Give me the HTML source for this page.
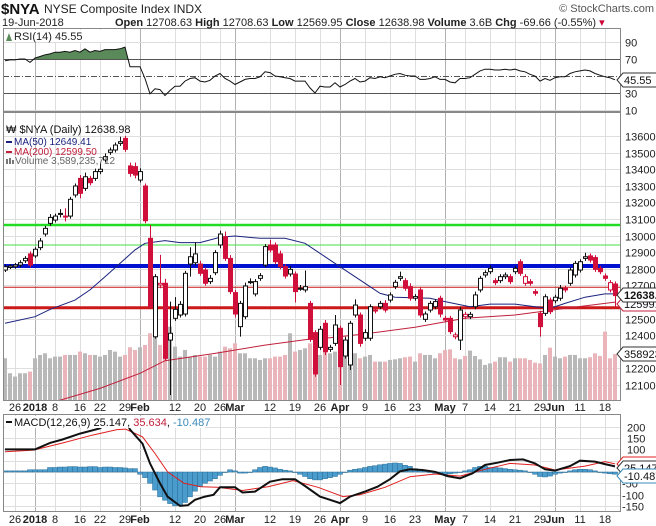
<!DOCTYPE html>
<html><head><meta charset="utf-8">
<style>
html,body{margin:0;padding:0;background:#fff;}
svg{display:block;font-family:"Liberation Sans",sans-serif;}
</style></head>
<body>
<svg id="c" width="656" height="526" viewBox="0 0 656 526" xmlns="http://www.w3.org/2000/svg">
<defs>
<clipPath id="clipMain"><rect x="3" y="112" width="618" height="288"/></clipPath>
<clipPath id="clipRsi"><rect x="3" y="28" width="618" height="83"/></clipPath>
<clipPath id="clipRsiHi"><rect x="3" y="28" width="618" height="31"/></clipPath>
<clipPath id="clipMacd"><rect x="3" y="414" width="618" height="97"/></clipPath>
</defs>
<rect x="0" y="0" width="656" height="526" fill="#fff"/>
<g id="grid"></g>
<g id="rsiG" clip-path="url(#clipRsi)"></g>
<g id="volG" clip-path="url(#clipMain)"></g>
<g id="linesG" clip-path="url(#clipMain)"></g>
<g id="candleG" clip-path="url(#clipMain)"></g>
<g id="macdG" clip-path="url(#clipMacd)"></g>
<g id="frames" fill="none" stroke="#888" stroke-width="1">
<rect x="3.5" y="28.5" width="617" height="83"/>
<rect x="3.5" y="112.5" width="617" height="288"/>
<rect x="3.5" y="414.5" width="617" height="97"/>
</g>
<g id="axes" font-size="11" fill="#222"></g>
<!-- header -->
<text x="1" y="14" font-size="15" font-weight="bold" fill="#111">$NYA</text>
<text x="44" y="13" font-size="12" fill="#222">NYSE Composite Index  INDX</text>
<text x="654" y="12" font-size="11" fill="#555" text-anchor="end">© StockCharts.com</text>
<text x="2" y="26" font-size="11" fill="#222">19-Jun-2018</text>
<text x="115" y="26" font-size="11" fill="#222"><tspan font-weight="bold">Open</tspan> 12708.63 <tspan font-weight="bold">High</tspan> 12708.63 <tspan font-weight="bold">Low</tspan> 12569.95 <tspan font-weight="bold">Close</tspan> 12638.98 <tspan font-weight="bold">Volume</tspan> 3.6B <tspan font-weight="bold">Chg</tspan> -69.66 (-0.55%) <tspan fill="#c03">▾</tspan></text>
<!-- RSI legend -->
<rect x="5" y="30" width="96" height="12" fill="#fff"/>
<path d="M6,41 L9,33 L12,41 Z" fill="#5a8a5a"/>
<text x="14" y="40" font-size="11" fill="#222">RSI(14) 45.55</text>
<!-- main legend -->
<g id="legendG">
<text x="6" y="133" font-size="11" fill="#111">₩ $NYA (Daily) 12638.98</text>
<line x1="6" y1="142" x2="12" y2="142" stroke="#1a237e" stroke-width="2"/>
<text x="14" y="145" font-size="10" fill="#1a237e">MA(50) 12649.41</text>
<line x1="6" y1="152" x2="12" y2="152" stroke="#c0203c" stroke-width="2"/>
<text x="14" y="155" font-size="10" fill="#c0203c">MA(200) 12599.50</text>
<rect x="6" y="159" width="2" height="5" fill="#777"/><rect x="9" y="158" width="2" height="6" fill="#777"/><rect x="12" y="160" width="2" height="4" fill="#777"/>
<text x="15" y="164" font-size="10" fill="#666">Volume 3,589,235,712</text>
</g>
<!-- macd legend -->
<rect x="5" y="416" width="200" height="12" fill="#fff"/>
<line x1="6" y1="422" x2="12" y2="422" stroke="#111" stroke-width="2"/>
<text x="14" y="426" font-size="11" fill="#111">MACD(12,26,9) 25.147, <tspan fill="#c0203c">35.634</tspan>, <tspan fill="#3a8ab8">-10.487</tspan></text>
<g id="tags" font-size="11"></g>
</svg>
<script>
// ---------- data ----------
const dateIdx   = [2,6,10,15,19,24,27,34,39,43,46,53,58,63,67,72,77,82,88,92,97,102,107,110,115,120];
const dateLbl   = ["26","2018","8","16","22","29","Feb","12","20","26","Mar","12","19","26","Apr","9","16","23","May","7","14","21","29","Jun","11","18"];
const dateMajor = [0,1,0,0,0,0,1,0,0,0,1,0,0,0,1,0,0,0,1,0,0,0,0,1,0,0];
const openP = [12793,12809,12813,12823,12849,12890,12878,12928,13010,13074,13094,13130,13118,13118,13245,13345,13285,13345,13345,13386,13456,13502,13516,13556,13586,13420,13416,13335,13299,12984,12391,12703,12713,12371,12502,12522,12528,12829,12837,12829,12793,12723,12777,12944,12994,12863,12657,12452,12512,12723,12649,12743,12823,12944,12944,12890,12813,12769,12769,12683,12673,12592,12416,12327,12472,12315,12351,12442,12275,12221,12522,12522,12382,12382,12552,12572,12592,12612,12693,12743,12729,12693,12623,12673,12496,12552,12572,12623,12502,12502,12391,12371,12512,12512,12572,12673,12763,12783,12729,12729,12753,12753,12783,12843,12713,12723,12663,12532,12532,12612,12608,12623,12683,12713,12763,12793,12863,12878,12868,12803,12757,12673,12709];
const closeP = [12813,12817,12823,12837,12863,12823,12918,12968,13044,13110,13118,13134,13114,13219,13299,13255,13355,13319,13386,13400,13476,13516,13546,13566,13520,13375,13365,13386,13090,12572,12753,12713,12261,12412,12556,12586,12773,12873,12890,12773,12713,12743,12898,13010,12863,12663,12528,12592,12697,12723,12723,12759,12934,12914,12843,12813,12757,12797,12663,12683,12693,12375,12167,12436,12301,12327,12462,12211,12371,12472,12582,12351,12416,12572,12552,12592,12552,12643,12719,12753,12683,12623,12633,12522,12528,12592,12603,12528,12492,12422,12402,12552,12526,12526,12643,12743,12777,12803,12717,12753,12763,12723,12803,12773,12753,12713,12653,12452,12632,12542,12629,12683,12673,12793,12833,12843,12873,12853,12797,12783,12743,12717,12639];
const wickUp = [12,10,12,15,14,15,12,18,15,20,15,26,47,15,15,20,25,15,18,40,20,15,15,30,15,20,25,20,15,80,15,171,27,191,74,20,15,57,70,20,15,20,15,20,31,20,15,15,20,20,15,15,15,31,15,20,15,20,15,20,97,15,15,20,20,15,60,15,20,15,34,15,20,15,15,15,20,15,15,30,15,20,15,15,15,15,15,15,15,15,15,20,15,15,20,15,15,20,15,15,15,15,15,15,15,15,15,15,15,15,15,20,15,15,15,15,24,15,15,15,15,15,15];
const wickDn = [12,10,12,15,14,15,12,15,15,15,15,20,29,15,15,30,15,15,15,15,15,15,15,15,15,20,20,15,15,15,11,20,11,331,15,15,15,76,15,15,15,15,15,20,15,15,20,60,15,15,15,15,15,15,15,15,15,15,66,15,15,15,17,15,20,15,15,111,15,30,15,20,15,15,20,15,15,15,15,15,15,15,15,15,15,15,15,20,15,15,15,60,15,15,15,15,15,15,15,15,15,15,15,15,15,15,15,60,15,15,15,15,15,15,15,15,15,15,15,15,15,15,67];
const volumeB = [3.26,2.09,1.83,2.09,2.09,2.22,3.26,3.52,3.65,3.26,3.39,3.39,3.52,3.52,3.52,3.78,3.65,3.52,3.52,3.39,3.52,3.91,3.78,3.39,3.52,4.12,3.91,4.12,4.30,5.21,5.86,4.30,4.69,5.73,4.17,3.39,3.91,3.39,3.52,3.39,3.39,3.52,3.39,3.78,4.17,4.04,4.43,3.65,3.65,3.26,3.26,3.13,3.26,3.26,3.39,3.39,3.52,5.21,3.78,3.91,4.04,4.43,4.95,3.52,3.91,3.65,3.78,3.52,3.39,3.26,3.65,3.26,3.39,3.52,3.00,3.00,3.00,3.13,3.18,3.26,3.34,3.39,3.00,3.65,3.52,3.52,3.26,3.65,3.91,3.96,3.26,3.18,3.44,3.86,3.44,3.18,2.74,2.86,3.00,3.34,3.34,3.00,3.26,3.26,3.26,3.13,2.92,2.86,3.52,4.09,3.39,3.26,3.39,3.52,3.52,3.26,3.26,3.34,3.65,3.44,5.34,3.26,3.59];
const ma50Idx = [0,6,9,14,17,20,23,26,28,32,35,39,43,46,51,56,60,63,65,72,75,78,85,88,93,97,102,106,109,112,116,120,122];
const ma50Val = [12472,12512,12556,12612,12673,12753,12833,12914,12954,12970,12958,12958,12990,12998,12984,12984,12954,12894,12853,12713,12653,12629,12623,12603,12572,12588,12588,12572,12562,12592,12629,12649,12649];
const ma200Idx = [5,10,19,27,32,42,52,62,65,72,82,92,102,112,122];
const ma200Val = [11950,12000,12080,12171,12247,12291,12341,12381,12385,12408,12448,12502,12522,12562,12600];
const rsiVal = [68,69,69,70,70,66,71,73,75,76,78,78,79,78,80,78,82,78,80,79,81,81,81,82,84,61,61,61,47,29,35,34,27,33,38,38,44,47,48,44,43,45,50,53,47,44,40,43,46,47,47,49,55,54,50,49,48,47,44,44,44,36,30,38,37,37,42,37,40,44,47,43,44,48,47,49,48,50,52,53,51,50,50,46,46,47,49,46,46,43,42,47,47,48,52,56,58,58,57,57,58,57,58,56,55,52,50,44,47,45,48,49,49,53,55,56,57,56,53,51,49,48,45.55];
const macdIdx = [0,6,9,11.5,15,19,21,24,25,27.5,29,31,32.5,35,36.6,38,40,41.7,43,46,47.5,50,53,55.5,58,60,63,65,67,69,72,74.5,77,79,81,83.5,86,88.5,91,93.5,96,98.5,101,103.6,106,108,110,113,115,118,120,122];
const macdVal = [100,100,129,144,170,193,230,235,188,126,38,-50,-109,-150,-147,-123,-109,-101,-68,-68,-91,-87,-43,-32,-32,-62,-109,-123,-138,-109,-87,-65,-32,3,12,9,1,-18,-28,-6,31,41,53,56,38,12,6,26,50,46,35,25];
const sigIdx = [0,5.7,11.6,17.4,22.4,24.1,27.5,30,32.5,35.8,39.2,42.5,47.5,52.6,57.6,62.6,67.6,71,76,81,86,91,96,101,106,110,116,120,122];
const sigVal = [90,97,129,163,188,190,156,82,1,-50,-65,-68,-82,-65,-38,-68,-109,-101,-68,-21,-9,-18,12,38,31,9,26,46,36];
const histVal = [5,5,5,5,5,10,10,10,10,20,20,22,22,24,24,22,22,24,24,20,22,22,20,20,18,15,15,-10,-25,-50,-80,-110,-125,-140,-150,-148,-135,-110,-85,-65,-50,-40,-30,-15,0,10,5,-5,-5,0,10,20,25,22,18,12,8,5,0,-10,-20,-30,-35,-35,-30,-25,-20,-10,0,8,12,15,20,25,28,32,35,38,40,38,30,25,15,10,5,0,-5,-10,-10,-8,-5,0,5,10,20,25,25,20,20,18,15,12,10,8,5,0,-10,-20,-22,-18,-10,-5,0,5,10,12,12,10,5,0,-5,-8,-10];
const priceTicks = [13600,13500,13400,13300,13200,13100,13000,12900,12800,12700,12500,12400,12200,12100];
const rsiTicks = [90,70,30,10];
const macdTicks = [200,150,100,50,-50,-100,-150];
const levelVal = [13064,12944,12817,12689,12566];
const levelCol = ["#22dd22","#44dd44","#0010d0","#cc1818","#cc1818"];
const levelW = [2.5,1,4,1,3];

// ---------- scales ----------
const NS="http://www.w3.org/2000/svg";
const X = i => 5 + 5*i;
const PY = p => 110 + (13757 - p)*0.166;
const VY = v => 400 - v*12.8;
const RY = v => 59 + (70 - v)*0.85;
const MY = v => 472 - v*0.2257;
function el(tag, parent){const e=document.createElementNS(NS,tag);parent.appendChild(e);return e;}
const grid=document.getElementById('grid'), axes=document.getElementById('axes');

dateIdx.forEach((d,k)=>{
  const x=X(d)+0.5;
  [[28,111],[112,400],[414,511]].forEach(r=>{
    const l=el('line',grid);
    
    
    l.setAttribute('x1',x);l.setAttribute('x2',x);l.setAttribute('y1',r[0]);l.setAttribute('y2',r[1]);
    l.setAttribute('stroke',dateMajor[k]?'#b0b0b0':'#dedede');l.setAttribute('stroke-width','1');
  });
  [411,523].forEach(y=>{
    const t=el('text',axes);
    
    
    t.setAttribute('x',X(d));t.setAttribute('y',y);t.setAttribute('text-anchor','middle');
    if(dateMajor[k]) t.setAttribute('font-weight','bold');
    t.textContent=dateLbl[k];
  });
});
priceTicks.forEach(p=>{
  const y=Math.round(PY(p))+0.5;
  const l=el('line',grid);
  
  
  l.setAttribute('x1',3);l.setAttribute('x2',621);l.setAttribute('y1',y);l.setAttribute('y2',y);l.setAttribute('stroke','#dedede');
  const t=el('text',axes);
  
  
  t.setAttribute('x',625);t.setAttribute('y',y+4);t.textContent=p;
});
rsiTicks.forEach(v=>{
  const y=Math.round(RY(v))+0.5;
  const l=el('line',grid);
  
  
  l.setAttribute('x1',3);l.setAttribute('x2',621);l.setAttribute('y1',y);l.setAttribute('y2',y);
  l.setAttribute('stroke',(v===70||v===30)?'#555':'#dedede');
  const t=el('text',axes);
  
  
  t.setAttribute('x',625);t.setAttribute('y',y+4);t.textContent=v;
});
{const y=Math.round(RY(50))+0.5;const l=el('line',grid);
 
 
 l.setAttribute('x1',3);l.setAttribute('x2',621);l.setAttribute('y1',y);l.setAttribute('y2',y);l.setAttribute('stroke','#555');l.setAttribute('stroke-dasharray','6,2,1,2');}
macdTicks.concat([0]).forEach(v=>{
  const y=Math.round(MY(v))+0.5;
  const l=el('line',grid);
  
  
  l.setAttribute('x1',3);l.setAttribute('x2',621);l.setAttribute('y1',y);l.setAttribute('y2',y);l.setAttribute('stroke','#dedede');
  if(v!==0){const t=el('text',axes);
  
  
  t.setAttribute('x',v<0?622:627);t.setAttribute('y',y+4);t.textContent=v;}
});

const rsiG=document.getElementById('rsiG');
const rsiPts=rsiVal.map((v,i)=>X(i)+','+RY(v).toFixed(1));
const fill=el('polygon',rsiG);


fill.setAttribute('points',X(0)+','+RY(70)+' '+rsiPts.join(' ')+' '+X(rsiVal.length-1)+','+RY(70));
fill.setAttribute('fill','#5a8a5a');fill.setAttribute('clip-path','url(#clipRsiHi)');
const rl=el('polyline',rsiG);


rl.setAttribute('points',rsiPts.join(' '));rl.setAttribute('fill','none');rl.setAttribute('stroke','#111');rl.setAttribute('stroke-width','1');

const volG=document.getElementById('volG');
volumeB.forEach((v,i)=>{
  const down=i>0&&closeP[i]<closeP[i-1];
  const r=el('rect',volG);
  
  
  r.setAttribute('x',X(i)-2);r.setAttribute('width',4);r.setAttribute('y',VY(v));r.setAttribute('height',400-VY(v));
  r.setAttribute('fill',down?'#e9b5bb':'#b8b8b8');
});
const linesG=document.getElementById('linesG');
levelVal.forEach((p,k)=>{
  const l=el('line',linesG);
  
  
  l.setAttribute('x1',3);l.setAttribute('x2',621);l.setAttribute('y1',PY(p));l.setAttribute('y2',PY(p));
  l.setAttribute('stroke',levelCol[k]);l.setAttribute('stroke-width',levelW[k]);
});
const m2=el('polyline',linesG);


m2.setAttribute('points',ma200Idx.map((d,k)=>X(d)+','+PY(ma200Val[k]).toFixed(1)).join(' '));
m2.setAttribute('fill','none');m2.setAttribute('stroke','#c0203c');m2.setAttribute('stroke-width','1');
const m1=el('polyline',linesG);


m1.setAttribute('points',ma50Idx.map((d,k)=>X(d)+','+PY(ma50Val[k]).toFixed(1)).join(' '));
m1.setAttribute('fill','none');m1.setAttribute('stroke','#1a237e');m1.setAttribute('stroke-width','1');

const cg=document.getElementById('candleG');
openP.forEach((o,i)=>{
  const c=closeP[i];
  const down=i>0&&c<closeP[i-1];
  const col=down?'#d0103a':'#111';
  const hi=Math.max(o,c)+wickUp[i], lo=Math.min(o,c)-wickDn[i];
  const w=el('line',cg);
  
  
  w.setAttribute('x1',X(i)+0.5);w.setAttribute('x2',X(i)+0.5);w.setAttribute('y1',PY(hi));w.setAttribute('y2',PY(lo));w.setAttribute('stroke',col);
  const b=el('rect',cg);
  
  
  const top=PY(Math.max(o,c)), bot=PY(Math.min(o,c));
  b.setAttribute('x',X(i)-1.5);b.setAttribute('width',4);b.setAttribute('y',top);b.setAttribute('height',Math.max(1,bot-top));
  b.setAttribute('fill',c<o?col:'#fff');b.setAttribute('stroke',col);b.setAttribute('stroke-width','1');
});

const mg=document.getElementById('macdG');
histVal.forEach((v,i)=>{
  const r=el('rect',mg);
  
  
  const y0=MY(0),y1=MY(v);
  r.setAttribute('x',X(i)-2.5);r.setAttribute('width',5);r.setAttribute('y',Math.min(y0,y1));r.setAttribute('height',Math.max(0.5,Math.abs(y1-y0)));
  r.setAttribute('fill','#4a9ccc');r.setAttribute('stroke','#2c6f99');r.setAttribute('stroke-width','0.5');
});
const sl=el('polyline',mg);


sl.setAttribute('points',sigIdx.map((d,k)=>X(d)+','+MY(sigVal[k]).toFixed(1)).join(' '));
sl.setAttribute('fill','none');sl.setAttribute('stroke','#e02020');sl.setAttribute('stroke-width','1');
const ml=el('polyline',mg);


ml.setAttribute('points',macdIdx.map((d,k)=>X(d)+','+MY(macdVal[k]).toFixed(1)).join(' '));
ml.setAttribute('fill','none');ml.setAttribute('stroke','#111');ml.setAttribute('stroke-width','2');

const tags=document.getElementById('tags');
function tag(y,txt,stroke,bold,name){
  const g=el('g',tags);
  
  
  const p=el('path',g);
  p.setAttribute('d','M617,'+y+' L623,'+(y-7)+' L660,'+(y-7)+' L660,'+(y+7)+' L623,'+(y+7)+' Z');
  p.setAttribute('fill','#fff');p.setAttribute('stroke',stroke);p.setAttribute('stroke-width','1');
  const t=el('text',g);
  t.setAttribute('x',624);t.setAttribute('y',y+4);t.setAttribute('fill','#111');
  if(bold) t.setAttribute('font-weight','bold');
  t.textContent=txt;
}
tag(Math.round(RY(45.55)),'45.55','#333',false,'rsi-value-tag');
tag(Math.round(PY(12599.5))+2,'12599.50','#c0203c',false,'ma200-value-tag');
tag(Math.round(PY(12638.98))-1,'12638.98','#333',true,'price-value-tag');
tag(Math.round(VY(3.589)),'3589235712','#333',false,'volume-value-tag');
tag(Math.round(MY(35.634)),'35.634','#e02020',false,'signal-value-tag');
tag(Math.round(MY(25.147))+2,'25.147','#333',false,'macd-value-tag');
tag(Math.round(MY(-10.487))+2,'-10.487','#3a8ab8',false,'hist-value-tag');
</script>
</body></html>
